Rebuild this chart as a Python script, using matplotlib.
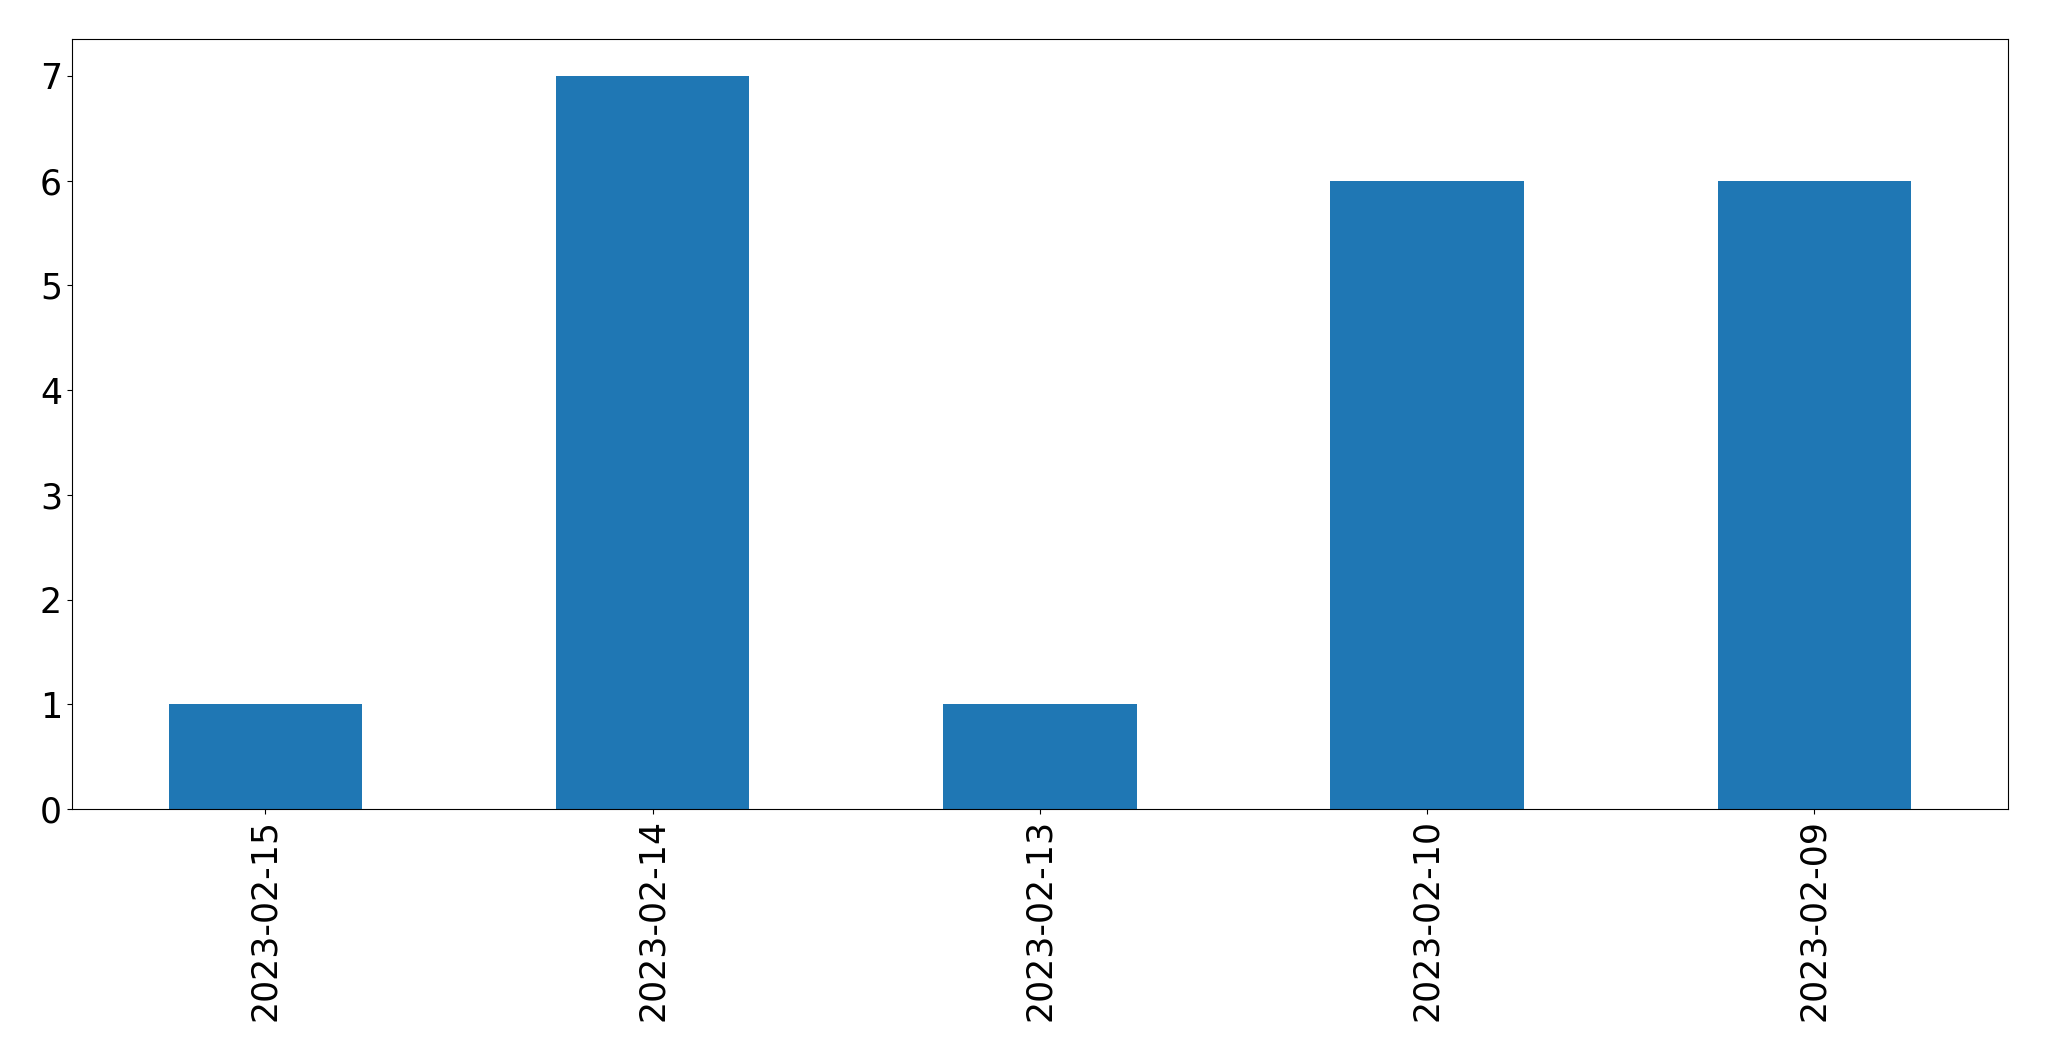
import matplotlib
matplotlib.use('Agg')
import matplotlib.pyplot as plt
import pandas as pd

dates = ['2023-02-15', '2023-02-14', '2023-02-13', '2023-02-10', '2023-02-09']
counts = [1, 7, 1, 6, 6]

series = pd.Series(counts, index=dates)

fig, ax = plt.subplots(figsize=(20.49, 10.61), dpi=100)
series.plot(kind='bar', ax=ax, color='#1f77b4')
ax.tick_params(axis='both', labelsize=25)
fig.subplots_adjust(left=0.035, right=0.980, top=0.963, bottom=0.2375)
fig.savefig('out.png', dpi=100)
